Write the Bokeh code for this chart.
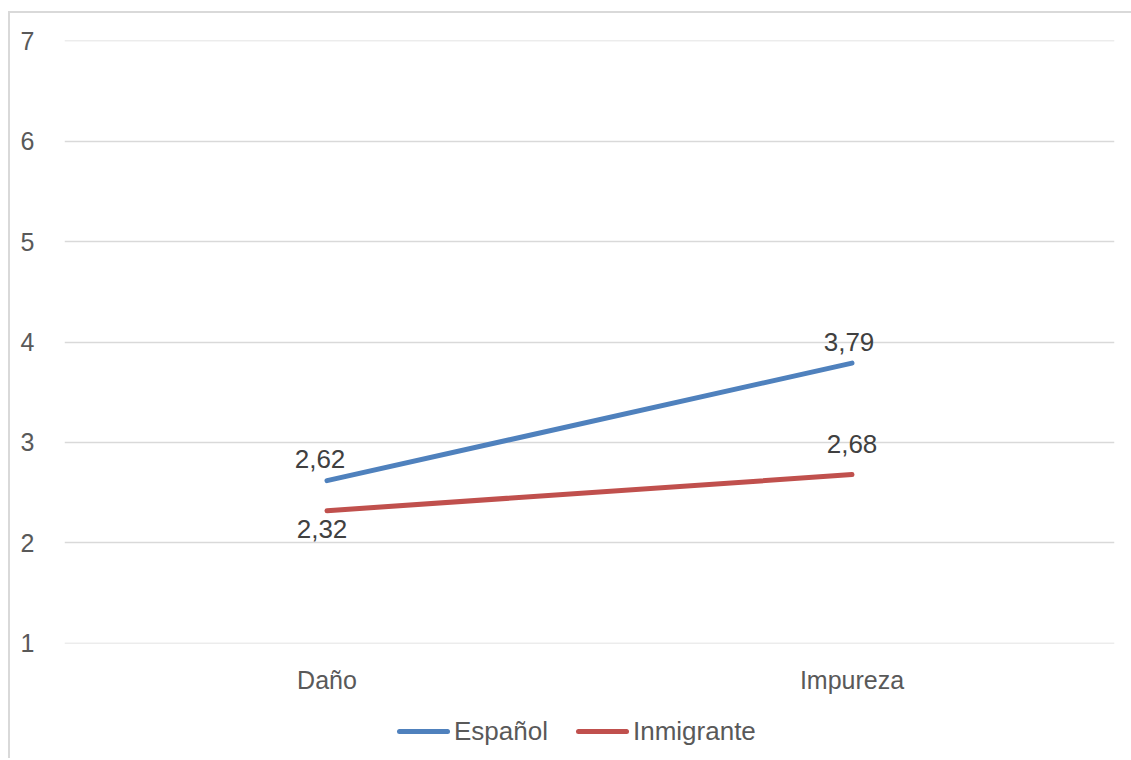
from bokeh.plotting import figure
from bokeh.models import ColumnDataSource, FixedTicker, FactorRange, Range1d, Div
from bokeh.layouts import column
from bokeh.core.properties import value
from bokeh.embed import file_html
from bokeh.resources import INLINE

categories = ["Daño", "Impureza"]
espanol = [2.62, 3.79]
inmigrante = [2.32, 2.68]
series_names = ["Español", "Inmigrante"]
y_ticks = [1, 2, 3, 4, 5, 6, 7]

BLUE = "#4F81BD"
RED = "#C0504D"
TXT = "#595959"
GRID = "#D9D9D9"
FONT = "Liberation Sans"

p = figure(x_range=FactorRange(*categories), y_range=Range1d(0.998, 7.002),
           width=1121, height=687, output_backend="svg", toolbar_location=None,
           min_border_left=54, min_border_right=17, min_border_top=27, min_border_bottom=57)
p.outline_line_color = None

p.yaxis.ticker = FixedTicker(ticks=y_ticks)
p.ygrid.ticker = FixedTicker(ticks=y_ticks)
p.ygrid.grid_line_color = GRID
p.ygrid.grid_line_width = 1.5
p.xgrid.grid_line_color = None
for ax in (p.xaxis, p.yaxis):
    ax.axis_line_color = None
    ax.major_tick_line_color = None
    ax.minor_tick_line_color = None
    ax.major_label_text_font = FONT
    ax.major_label_text_font_size = "25px"
    ax.major_label_text_color = TXT
p.yaxis.major_label_standoff = 24
p.xaxis.major_label_standoff = 16

def fmt(v):
    return f"{v:.2f}".replace(".", ",")

src_e_low = ColumnDataSource(dict(x=categories[:1], y=espanol[:1], lab=[fmt(v) for v in espanol[:1]]))
src_e_high = ColumnDataSource(dict(x=categories[1:], y=espanol[1:], lab=[fmt(v) for v in espanol[1:]]))
src_i_low = ColumnDataSource(dict(x=categories[:1], y=inmigrante[:1], lab=[fmt(v) for v in inmigrante[:1]]))
src_i_high = ColumnDataSource(dict(x=categories[1:], y=inmigrante[1:], lab=[fmt(v) for v in inmigrante[1:]]))
src_e = ColumnDataSource(dict(x=categories, y=espanol))
src_i = ColumnDataSource(dict(x=categories, y=inmigrante))

r1 = p.line("x", "y", source=src_e, line_color=BLUE, line_width=5, line_cap="round")
r2 = p.line("x", "y", source=src_i, line_color=RED, line_width=5, line_cap="round")

LBL = dict(text_align="center", text_font=value(FONT), text_font_size="26px", text_color="#404040")
p.text("x", "y", text="lab", source=src_e_low, x_offset=-7, y_offset=-13,
       text_baseline="bottom", **LBL)
p.text("x", "y", text="lab", source=src_e_high, x_offset=-3, y_offset=-12,
       text_baseline="bottom", **LBL)
p.text("x", "y", text="lab", source=src_i_low, x_offset=-5, y_offset=9,
       text_baseline="top", **LBL)
p.text("x", "y", text="lab", source=src_i_high, x_offset=0, y_offset=-22,
       text_baseline="bottom", **LBL)

colors = [BLUE, RED]
items_html = ""
for i, (name, col) in enumerate(zip(series_names, colors)):
    ml = 0 if i == 0 else 28
    items_html += (f'<span style="display:inline-block;width:53px;height:5px;border-radius:3px;'
                   f'background:{col};margin-left:{ml}px;vertical-align:middle"></span>'
                   f'<span style="margin-left:4px;vertical-align:middle">{name}</span>')
legend_div = Div(
    text=(f'<div style="position:relative;width:1121px;height:58px;font-family:\'{FONT}\';'
          f'font-size:26px;color:{TXT};white-space:nowrap">'
          f'<div style="position:absolute;left:387px;top:14px;line-height:30px">{items_html}</div></div>'),
    width=1121, height=58, margin=0)

lay = column(p, legend_div, margin=(11, 0, 0, 8))
lay.styles = {"border-left": "2px solid #D9D9D9", "border-top": "2px solid #D9D9D9"}

open("out.html", "w").write(file_html(lay, INLINE))
